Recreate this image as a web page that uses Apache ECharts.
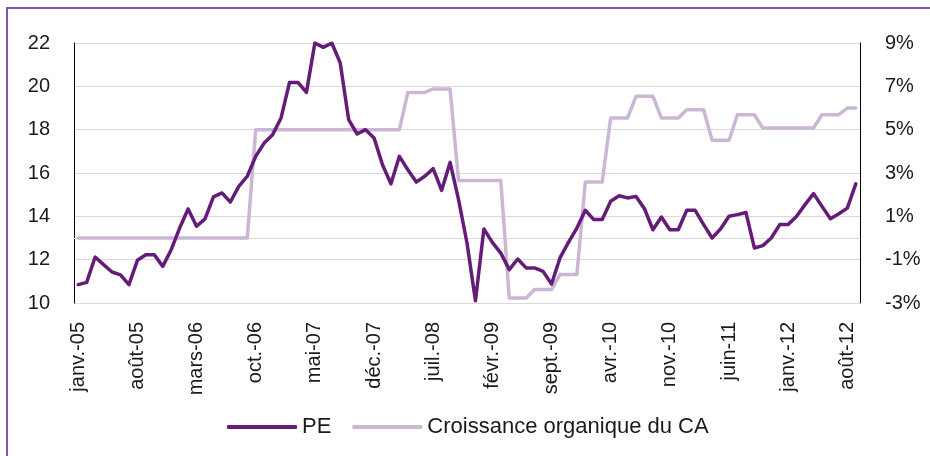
<!DOCTYPE html>
<html>
<head>
<meta charset="utf-8">
<script src="https://cdn.jsdelivr.net/npm/echarts@6/dist/echarts.min.js"></script>
<style>
html,body{margin:0;padding:0;background:#fff;}
#chart{width:930px;height:456px;}
</style>
</head>
<body>
<div id="chart"></div>
<script>
// Month names and years for the category axis
var monthNames = ['janv.','févr.','mars','avr.','mai','juin','juil.','août','sept.','oct.','nov.','déc.'];
var years = ['05','06','07','08','09','10','11','12'];
var lastMonthIndex = 8; // sept.-12

var categories = [];
years.forEach(function (y, yi) {
  monthNames.forEach(function (m, mi) {
    if (yi === years.length - 1 && mi > lastMonthIndex) return;
    categories.push(m + '-' + y);
  });
});

// PE (left axis)
var pe = [
  10.85, 10.95, 12.12, 11.77, 11.43, 11.3, 10.85, 11.97, 12.23, 12.23,
  11.69, 12.46, 13.46, 14.34, 13.54, 13.88, 14.9, 15.08, 14.66, 15.38,
  15.85, 16.77, 17.38, 17.77, 18.54, 20.18, 20.18, 19.72, 22.0, 21.8,
  22.0, 21.08, 18.46, 17.8, 18.0, 17.62, 16.38, 15.5, 16.77, 16.15,
  15.58, 15.85, 16.2, 15.2, 16.49, 14.77, 12.77, 10.1, 13.42, 12.8,
  12.3, 11.54, 12.03, 11.62, 11.62, 11.46, 10.88, 12.08, 12.8, 13.46,
  14.28, 13.85, 13.85, 14.7, 14.95, 14.85, 14.92, 14.35, 13.38, 13.97,
  13.38, 13.38, 14.28, 14.28, 13.62, 13.0, 13.42, 14.0, 14.08, 14.18,
  12.54, 12.65, 13.0, 13.62, 13.62, 14.0, 14.54, 15.05, 14.46, 13.89,
  14.12, 14.38, 15.5
];

// Croissance organique du CA, % (right axis)
var croissance = [
  0, 0, 0, 0, 0, 0, 0, 0, 0, 0,
  0, 0, 0, 0, 0, 0, 0, 0, 0, 0,
  0, 5.0, 5.0, 5.0, 5.0, 5.0, 5.0, 5.0, 5.0, 5.0,
  5.0, 5.0, 5.0, 5.0, 5.0, 5.0, 5.0, 5.0, 5.0, 6.72,
  6.72, 6.72, 6.88, 6.88, 6.88, 2.65, 2.65, 2.65, 2.65, 2.65,
  2.65, -2.77, -2.77, -2.77, -2.38, -2.38, -2.38, -1.69, -1.69, -1.69,
  2.58, 2.58, 2.58, 5.54, 5.54, 5.54, 6.54, 6.54, 6.54, 5.54,
  5.54, 5.54, 5.92, 5.92, 5.92, 4.51, 4.51, 4.51, 5.69, 5.69,
  5.69, 5.08, 5.08, 5.08, 5.08, 5.08, 5.08, 5.08, 5.69, 5.69,
  5.69, 6.0, 6.0
];

var seriesNames = ['PE', 'Croissance organique du CA'];

var font = "'Liberation Sans', Arial, sans-serif";
var chart = echarts.init(document.getElementById('chart'), null, {renderer: 'canvas'});
chart.setOption({
  animation: false,
  backgroundColor: '#fff',
  graphic: [{
    type: 'rect',
    shape: {x: 7, y: 8, width: 960, height: 480},
    style: {fill: 'none', stroke: '#7F5AA2', lineWidth: 2},
    silent: true,
    z: -1
  }],
  grid: {left: 74, right: 70, top: 43, bottom: 153, containLabel: false},
  legend: {
    left: 222,
    top: 411,
    itemWidth: 70,
    itemHeight: 4,
    itemGap: 21,
    icon: 'roundRect',
    textStyle: {fontFamily: font, fontSize: 22, color: '#1a1a1a'},
    data: seriesNames
  },
  xAxis: {
    type: 'category',
    data: categories,
    boundaryGap: true,
    axisLine: {show: true, lineStyle: {color: '#d9d9d9', width: 1}},
    axisTick: {show: false},
    axisLabel: {
      interval: 6,
      rotate: 90,
      margin: 19,
      fontFamily: font,
      fontSize: 20,
      color: '#1a1a1a'
    },
    splitLine: {show: false}
  },
  yAxis: [{
    type: 'value',
    min: 10,
    max: 22,
    interval: 2,
    position: 'left',
    axisLine: {show: true, lineStyle: {color: '#000', width: 1}},
    axisTick: {show: false},
    axisLabel: {margin: 24, fontFamily: font, fontSize: 20, color: '#1a1a1a'},
    splitLine: {show: true, lineStyle: {color: '#d9d9d9', width: 1}}
  }, {
    type: 'value',
    min: -3,
    max: 9,
    interval: 2,
    position: 'right',
    axisLine: {show: true, lineStyle: {color: '#000', width: 1}},
    axisTick: {show: false},
    axisLabel: {margin: 25, fontFamily: font, fontSize: 20, color: '#1a1a1a', formatter: '{value}%'},
    splitLine: {show: false}
  }],
  series: [{
    name: seriesNames[1],
    type: 'line',
    yAxisIndex: 1,
    data: croissance,
    showSymbol: false,
    symbol: 'none',
    lineStyle: {color: '#CBB7D5', width: 3.5, cap: 'round', join: 'round'},
    itemStyle: {color: '#CBB7D5'},
    z: 2
  }, {
    name: seriesNames[0],
    type: 'line',
    yAxisIndex: 0,
    data: pe,
    showSymbol: false,
    symbol: 'none',
    lineStyle: {color: '#641C78', width: 3.5, cap: 'round', join: 'round'},
    itemStyle: {color: '#641C78'},
    z: 3
  }]
});
</script>
</body>
</html>
